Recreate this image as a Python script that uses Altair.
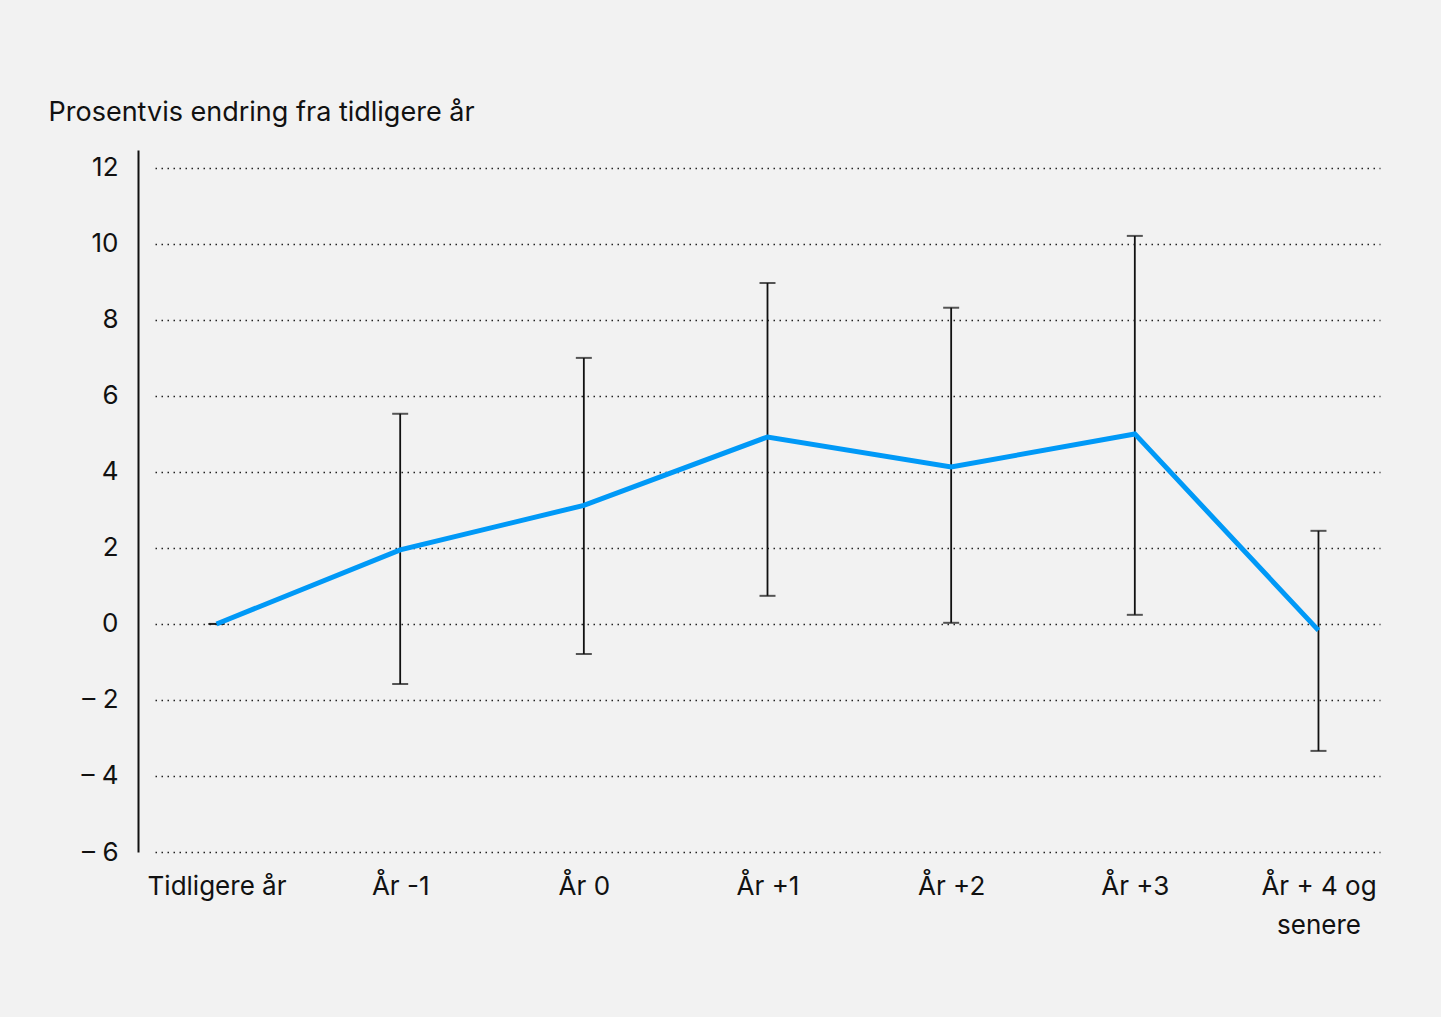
import altair as alt
import pandas as pd

categories = ["Tidligere år", "År -1", "År 0", "År +1", "År +2", "År +3", "År + 4 og senere"]
values = [0.0, 1.95, 3.12, 4.92, 4.13, 5.0, -0.17]
lows = [0.0, -1.58, -0.79, 0.74, 0.03, 0.24, -3.34]
highs = [0.0, 5.53, 7.0, 8.97, 8.32, 10.21, 2.45]
y_ticks = [-6, -4, -2, 0, 2, 4, 6, 8, 10, 12]

df = pd.DataFrame({"kat": categories, "verdi": values, "lav": lows, "hoy": highs})

FONT = "Inter"
x_enc = alt.X(
    "kat:N",
    sort=categories,
    scale=alt.Scale(type="point", padding=0.335),
    axis=alt.Axis(
        title=None,
        domain=False,
        ticks=False,
        grid=False,
        labelAngle=0,
        labelPadding=21,
        labelFontSize=26,
        labelFont=FONT,
        labelColor="#111111",
        labelLineHeight=39,
        labelExpr="datum.label == 'År + 4 og senere' ? ['År + 4 og', 'senere'] : datum.label",
    ),
)
y_scale = alt.Scale(domain=[-6, 12.47], nice=False, zero=False)
y_axis = alt.Axis(
    title="Prosentvis endring fra tidligere år",
    titleAngle=0,
    titleAlign="left",
    titleBaseline="alphabetic",
    titleX=-90,
    titleY=-30,
    titleFont=FONT,
    titleFontSize=27,
    titleFontWeight="normal",
    titleColor="#111111",
    values=y_ticks,
    offset=17,
    domain=True,
    domainColor="#111111",
    domainWidth=2,
    ticks=False,
    labelPadding=20,
    labelFont=FONT,
    labelFontSize=26,
    labelColor="#111111",
    labelExpr="datum.value < 0 ? '– ' + abs(datum.value) : datum.label",
    grid=True,
    gridColor="#222222",
    gridWidth=1.3,
    gridDash=[1.5, 4.5],
)

base = alt.Chart(df)

rules = base.mark_rule(color="#111111", strokeWidth=1.8).encode(
    x=x_enc,
    y=alt.Y("lav:Q", scale=y_scale, axis=y_axis),
    y2="hoy:Q",
)
caps_low = base.mark_tick(color="#111111", size=16, thickness=2).encode(
    x=x_enc, y=alt.Y("lav:Q", scale=y_scale)
)
caps_high = base.mark_tick(color="#111111", size=16, thickness=2).encode(
    x=x_enc, y=alt.Y("hoy:Q", scale=y_scale)
)
line = base.mark_line(color="#0099F7", strokeWidth=5).encode(
    x=x_enc, y=alt.Y("verdi:Q", scale=y_scale)
)

chart = (
    alt.layer(rules, caps_low, caps_high, line)
    .properties(
        width=1225,
        height=702,
        background="#F2F2F2",
        padding={"left": 155, "top": 150, "right": 61, "bottom": 165},
        autosize=alt.AutoSizeParams(type="none"),
    )
    .configure_view(stroke=None)
)

chart.save("out.html", embed_options={"renderer": "svg", "actions": False})
